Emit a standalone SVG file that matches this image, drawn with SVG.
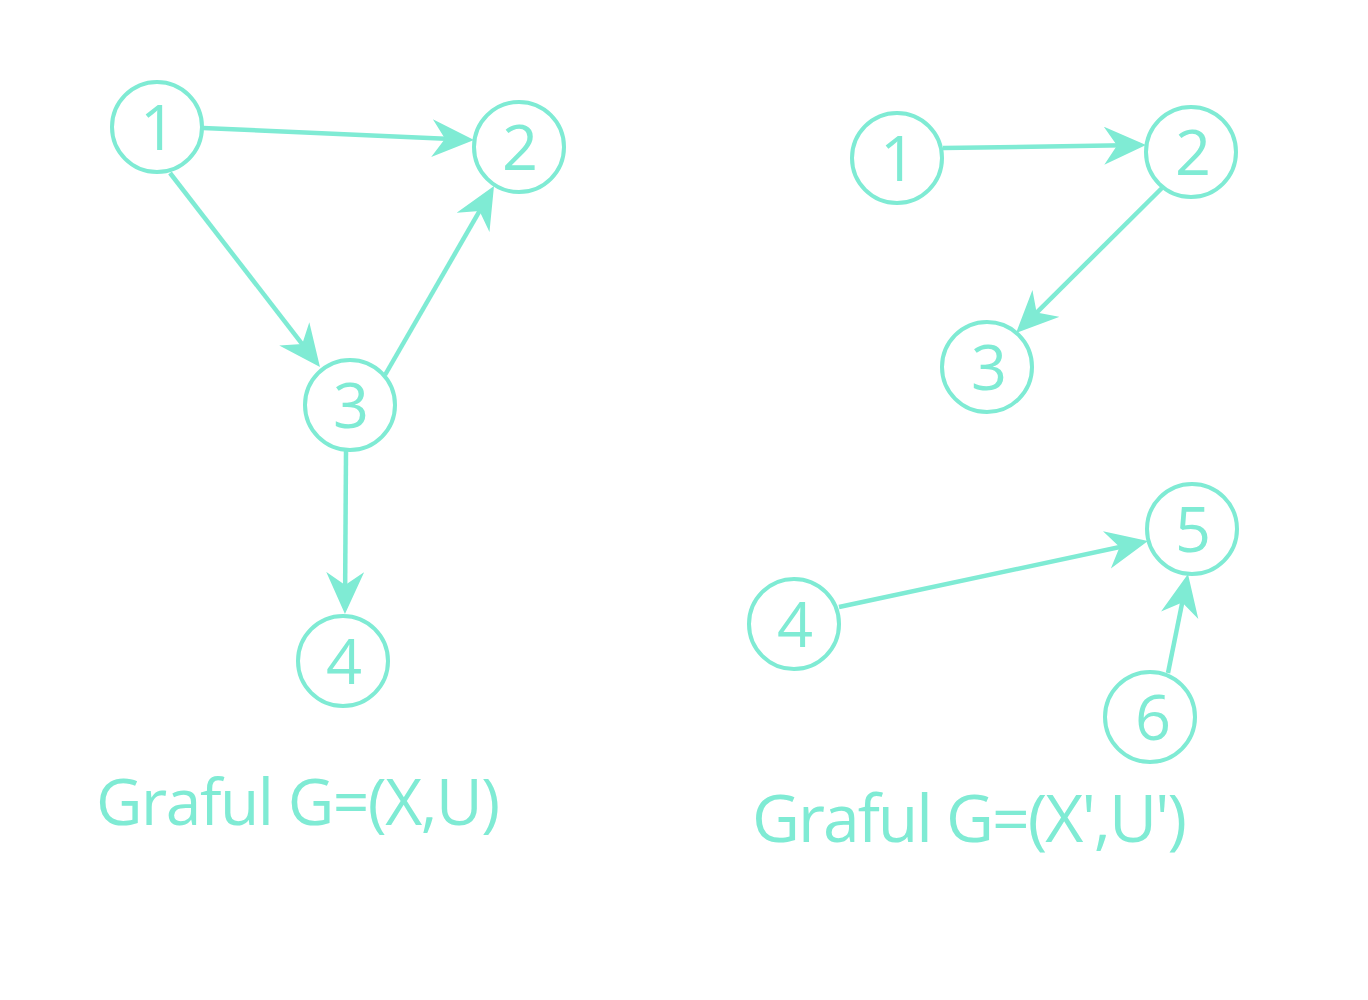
<svg xmlns="http://www.w3.org/2000/svg" width="1368" height="1000" viewBox="0 0 1368 1000">
<style>
.node circle{fill:#ffffff;stroke:#7FEBD4;stroke-width:4}
.node text{fill:#7FEBD4;font-family:"Open Sans","Noto Sans",sans-serif;font-size:63px;text-anchor:middle}
.edge{stroke:#7FEBD4;stroke-width:4.5;fill:none;marker-end:url(#arr)}
.title{fill:#7FEBD4;font-family:"Open Sans","Noto Sans",sans-serif}
</style>
<defs>
<marker id="arr" markerUnits="userSpaceOnUse" markerWidth="44" markerHeight="40" refX="36" refY="19" orient="auto" viewBox="0 0 44 40">
<path d="M0,0 L42,19 L0,38 L13,19 Z" fill="#7FEBD4"/>
</marker>
</defs>
<rect width="1368" height="1000" fill="#ffffff"/>
<g id="connectors">
<line class="edge" x1="203" y1="128" x2="468" y2="139.7"/>
<line class="edge" x1="170" y1="173" x2="316.3" y2="362.3"/>
<line class="edge" x1="385" y1="375" x2="491" y2="191.2"/>
<line class="edge" x1="346" y1="451" x2="345" y2="608"/>
<line class="edge" x1="943" y1="148" x2="1140" y2="145.1"/>
<line class="edge" x1="1162" y1="188" x2="1020.3" y2="328.8"/>
<line class="edge" x1="839" y1="607" x2="1142.1" y2="542.3"/>
<line class="edge" x1="1168" y1="673" x2="1186.8" y2="579.9"/>
</g>
<g id="L1" class="node"><circle cx="157" cy="127" r="45"/><text x="158" y="150">1</text></g>
<g id="L2" class="node"><circle cx="519" cy="147" r="45"/><text x="520" y="170">2</text></g>
<g id="L3" class="node"><circle cx="350" cy="405" r="45"/><text x="351" y="428">3</text></g>
<g id="L4" class="node"><circle cx="343" cy="661" r="45"/><text x="344" y="684">4</text></g>
<g id="R1" class="node"><circle cx="897" cy="158" r="45"/><text x="898" y="181">1</text></g>
<g id="R2" class="node"><circle cx="1191" cy="152" r="45"/><text x="1193" y="175">2</text></g>
<g id="R3" class="node"><circle cx="987" cy="367" r="45"/><text x="989" y="390">3</text></g>
<g id="R4" class="node"><circle cx="794" cy="624" r="45"/><text x="795" y="647">4</text></g>
<g id="R5" class="node"><circle cx="1192" cy="529" r="45"/><text x="1193" y="552">5</text></g>
<g id="R6" class="node"><circle cx="1150" cy="717" r="45"/><text x="1153" y="740">6</text></g>
<text class="title" x="96" y="825" font-size="64" textLength="404" lengthAdjust="spacing">Graful G=(X,U)</text>
<text class="title" x="752" y="842" font-size="66" textLength="435" lengthAdjust="spacing">Graful G=(X',U')</text>
</svg>
